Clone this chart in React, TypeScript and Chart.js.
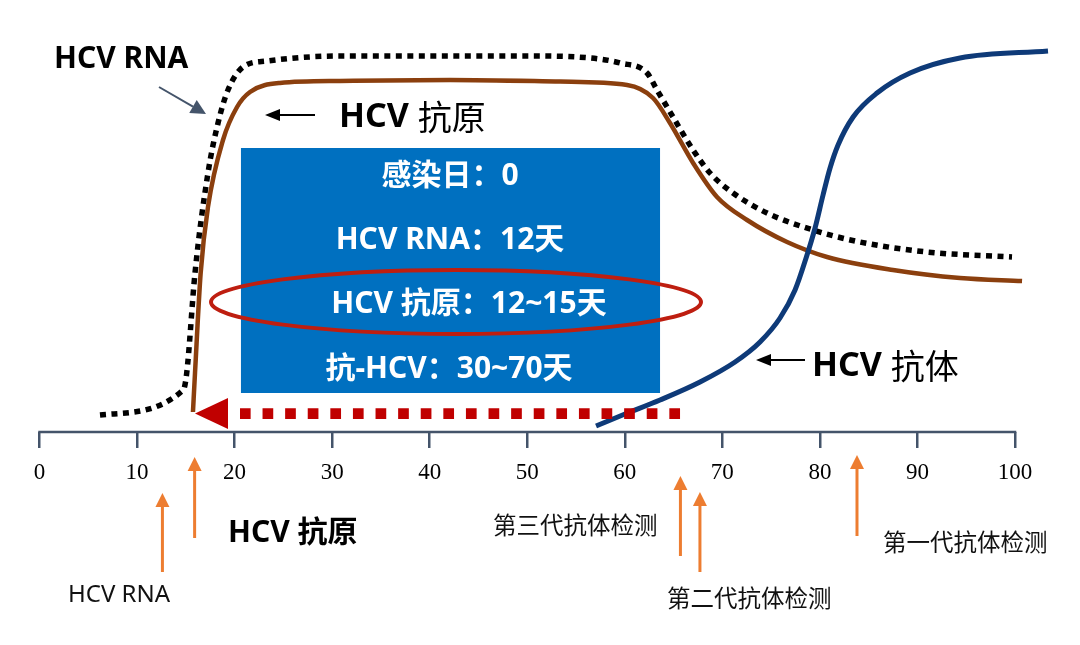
import React, { useEffect, useRef } from 'react';
import { Chart, registerables } from 'chart.js';

Chart.register(...registerables);

// ---- axis ----
const tickValues = [0, 10, 20, 30, 40, 50, 60, 70, 80, 90, 100];

// ---- HCV RNA (dotted black) : day, relative level ----
const rnaDays = [6.2, 14.74, 15.09, 15.94, 17.27, 18.3, 19.32, 20.86, 23.32, 30.8, 40, 50, 56.5, 59.51, 62.28, 63.3, 64.94, 67.0, 68.73, 71.09, 74.58, 79.29, 84.1, 90.97, 99.69];
const rnaLevel = [4.25, 10.5, 14.75, 39.75, 64.75, 77.25, 85.5, 91.25, 92.75, 94, 94, 94, 93.5, 92.25, 89.75, 85.5, 78.75, 70.5, 64.75, 59.75, 54.75, 50.5, 47.5, 45, 43.75];

// ---- HCV 抗原 (brown) ----
const agDays = [15.73, 15.94, 16.52, 17.27, 18.81, 20.25, 21.58, 24.65, 30.8, 42.08, 53.36, 60.23, 62.89, 64.63, 67.0, 69.45, 72.53, 76.63, 80.73, 87.49, 94.36, 100.72];
const agLevel = [5, 14.75, 39.75, 56.25, 73, 81.25, 85, 87.25, 87.75, 88, 87.6, 86.75, 83.5, 77.25, 67.25, 58.75, 53, 47.5, 43.75, 40.5, 38.5, 37.75];

// ---- HCV 抗体 (navy) ----
const abDays = [57.05, 60.02, 63.61, 67.71, 71.3, 73.86, 75.91, 77.45, 78.58, 79.5, 80.32, 81.04, 81.86, 83.4, 85.85, 89.24, 94.36, 103.38];
const abLevel = [1.5, 4.5, 8, 12.5, 17.5, 22.5, 28.5, 35.5, 43.5, 51, 59.25, 66, 71.75, 78.75, 84.75, 89.75, 93.5, 95.25];

// ---- annotations ----
const detectionDays = [12.6, 15.9, 65.7, 67.7, 83.8];
const windowStartDay = 15.94;
const windowEndDay = 65.66;
const windowLevel = 4.6;
const boxDays = [20.65, 63.61];
const boxLevels = [9.75, 71];
const boxLines = ['感染日：0', 'HCV RNA：12天', 'HCV 抗原：12~15天', '抗-HCV：30~70天'];

const SANS = '"Noto Sans", "Noto Sans CJK SC", sans-serif';
const CJK = '"Noto Sans CJK SC", "Noto Sans", sans-serif';

function arrow(ctx: CanvasRenderingContext2D, x1: number, y1: number, x2: number, y2: number, color: string, lw: number, headLen: number, headHalf: number) {
  const ang = Math.atan2(y2 - y1, x2 - x1);
  const bx = x2 - headLen * Math.cos(ang);
  const by = y2 - headLen * Math.sin(ang);
  ctx.save();
  ctx.strokeStyle = color;
  ctx.fillStyle = color;
  ctx.lineWidth = lw;
  ctx.lineCap = 'butt';
  ctx.beginPath();
  ctx.moveTo(x1, y1);
  ctx.lineTo(bx, by);
  ctx.stroke();
  ctx.beginPath();
  ctx.moveTo(x2, y2);
  ctx.lineTo(bx + headHalf * Math.sin(ang), by - headHalf * Math.cos(ang));
  ctx.lineTo(bx - headHalf * Math.sin(ang), by + headHalf * Math.cos(ang));
  ctx.closePath();
  ctx.fill();
  ctx.restore();
}

function text(ctx: CanvasRenderingContext2D, s: string, x: number, y: number, font: string, color: string, align: CanvasTextAlign = 'left') {
  ctx.save();
  ctx.font = font;
  ctx.fillStyle = color;
  ctx.textAlign = align;
  ctx.textBaseline = 'middle';
  ctx.fillText(s, x, y);
  ctx.restore();
}

function mixedLabel(ctx: CanvasRenderingContext2D, latin: string, cjk: string, x: number, y: number, size: number) {
  ctx.save();
  ctx.font = `bold ${size}px ${SANS}`;
  const w = ctx.measureText(latin + ' ').width;
  ctx.restore();
  text(ctx, latin, x, y, `bold ${size}px ${SANS}`, '#000');
  text(ctx, cjk, x + w, y, `${size}px ${CJK}`, '#000');
}

const annotPlugin = {
  id: 'annot',
  beforeDatasetsDraw(chart: any) {
    const { ctx, scales } = chart;
    const x = scales.x;
    const y = scales.y;
    // blue info box
    const x1 = x.getPixelForValue(boxDays[0]);
    const x2 = x.getPixelForValue(boxDays[1]);
    const y1 = y.getPixelForValue(boxLevels[1]);
    const y2 = y.getPixelForValue(boxLevels[0]);
    ctx.save();
    ctx.fillStyle = '#0070C0';
    ctx.fillRect(x1, y1, x2 - x1, y2 - y1);
    ctx.restore();
    const cx = [450, 450, 469, 449];
    const cy = [176, 240, 304, 369];
    boxLines.forEach((s, i) => text(ctx, s, cx[i], cy[i], `bold 30px ${SANS}`, '#fff', 'center'));
    // red ellipse
    ctx.save();
    ctx.strokeStyle = '#BE1E10';
    ctx.lineWidth = 4;
    ctx.beginPath();
    ctx.ellipse(456, 302, 245, 32, 0, 0, Math.PI * 2);
    ctx.stroke();
    ctx.restore();
  },
  afterDatasetsDraw(chart: any) {
    const { ctx, scales, chartArea } = chart;
    const x = scales.x;
    const y = scales.y;
    const axisY = chartArea.bottom;
    // axis line 0..100
    ctx.save();
    ctx.strokeStyle = '#44546A';
    ctx.lineWidth = 2.5;
    ctx.beginPath();
    ctx.moveTo(x.getPixelForValue(tickValues[0]) - 1.25, axisY);
    ctx.lineTo(x.getPixelForValue(tickValues[tickValues.length - 1]) + 1.25, axisY);
    ctx.stroke();
    ctx.restore();

    // red dotted window arrow
    const tipX = x.getPixelForValue(windowStartDay);
    const endX = x.getPixelForValue(windowEndDay);
    const wy = y.getPixelForValue(windowLevel);
    ctx.save();
    ctx.fillStyle = '#C00000';
    ctx.beginPath();
    ctx.moveTo(tipX, wy);
    ctx.lineTo(tipX + 33, wy - 15.5);
    ctx.lineTo(tipX + 33, wy + 15.5);
    ctx.closePath();
    ctx.fill();
    ctx.strokeStyle = '#C00000';
    ctx.lineWidth = 10.7;
    ctx.lineCap = 'butt';
    ctx.setLineDash([10.7, 11.9]);
    ctx.beginPath();
    ctx.moveTo(endX, wy);
    ctx.lineTo(tipX + 45, wy);
    ctx.stroke();
    ctx.restore();

    // orange detection arrows
    const tipOff = [61, 25, 44, 60, 23];
    const botOff = [140, 106, 124, 140, 104];
    detectionDays.forEach((d, i) => {
      const px = x.getPixelForValue(d);
      arrow(ctx, px, axisY + botOff[i], px, axisY + tipOff[i], '#ED7D31', 3, 14, 7);
    });

    // top labels
    text(ctx, 'HCV RNA', 54, 59, `bold 30px ${SANS}`, '#000');
    arrow(ctx, 159, 87, 206, 114, '#44546A', 2, 15, 7.5);
    arrow(ctx, 315, 115, 265, 115, '#000', 1.8, 15, 6);
    mixedLabel(ctx, 'HCV', '抗原', 339, 117, 34);
    arrow(ctx, 805, 360, 756, 360, '#000', 1.8, 15, 6);
    mixedLabel(ctx, 'HCV', '抗体', 812, 366, 34);

    // bottom labels
    text(ctx, 'HCV RNA', 68, 595, `24px ${SANS}`, '#111');
    text(ctx, 'HCV 抗原', 228, 533, `bold 30px ${SANS}`, '#000');
    text(ctx, '第三代抗体检测', 493, 525, `23.5px ${CJK}`, '#111');
    text(ctx, '第二代抗体检测', 667, 598, `23.5px ${CJK}`, '#111');
    text(ctx, '第一代抗体检测', 883, 542, `23.5px ${CJK}`, '#111');
  },
};

const toPts = (xs: number[], ys: number[]) => xs.map((v, i) => ({ x: v, y: ys[i] }));

export default function App() {
  const ref = useRef<HTMLCanvasElement>(null);
  useEffect(() => {
    const chart = new Chart(ref.current as HTMLCanvasElement, {
      type: 'line',
      data: {
        datasets: [
          {
            label: 'HCV 抗体',
            data: toPts(abDays, abLevel),
            borderColor: '#0E3A78',
            borderWidth: 5,
            cubicInterpolationMode: 'monotone',
            pointRadius: 0,
            fill: false,
          },
          {
            label: 'HCV RNA',
            data: toPts(rnaDays, rnaLevel),
            borderColor: '#000000',
            borderWidth: 5.5,
            borderDash: [6, 5.5],
            borderCapStyle: 'butt',
            cubicInterpolationMode: 'monotone',
            pointRadius: 0,
            fill: false,
          },
          {
            label: 'HCV 抗原',
            data: toPts(agDays, agLevel),
            borderColor: '#8B3F0E',
            borderWidth: 4.5,
            cubicInterpolationMode: 'monotone',
            pointRadius: 0,
            fill: false,
          },
        ],
      } as any,
      options: {
        animation: false,
        responsive: true,
        maintainAspectRatio: false,
        layout: { padding: 0 },
        plugins: { legend: { display: false }, tooltip: { enabled: false } },
        scales: {
          x: {
            type: 'linear',
            min: -4.05,
            max: 106.66,
            afterBuildTicks: (s: any) => {
              s.ticks = tickValues.map((v) => ({ value: v }));
            },
            afterFit: (s: any) => {
              s.height = 213;
            },
            grid: { drawOnChartArea: false, drawTicks: true, tickLength: 16, color: '#44546A', lineWidth: 2.5 },
            border: { display: false },
            ticks: {
              color: '#000',
              font: { family: '"Liberation Serif", "Times New Roman", serif', size: 23 },
              padding: 11,
              maxRotation: 0,
              autoSkip: false,
              callback: (v: any) => String(v),
            },
          },
          y: { display: false, min: 0, max: 108 },
        },
      } as any,
      plugins: [annotPlugin],
    });
    return () => chart.destroy();
  }, []);
  return (
    <div style={{ position: 'fixed', left: 0, top: 0, width: 1080, height: 645, background: '#fff' }}>
      <canvas ref={ref} />
    </div>
  );
}
